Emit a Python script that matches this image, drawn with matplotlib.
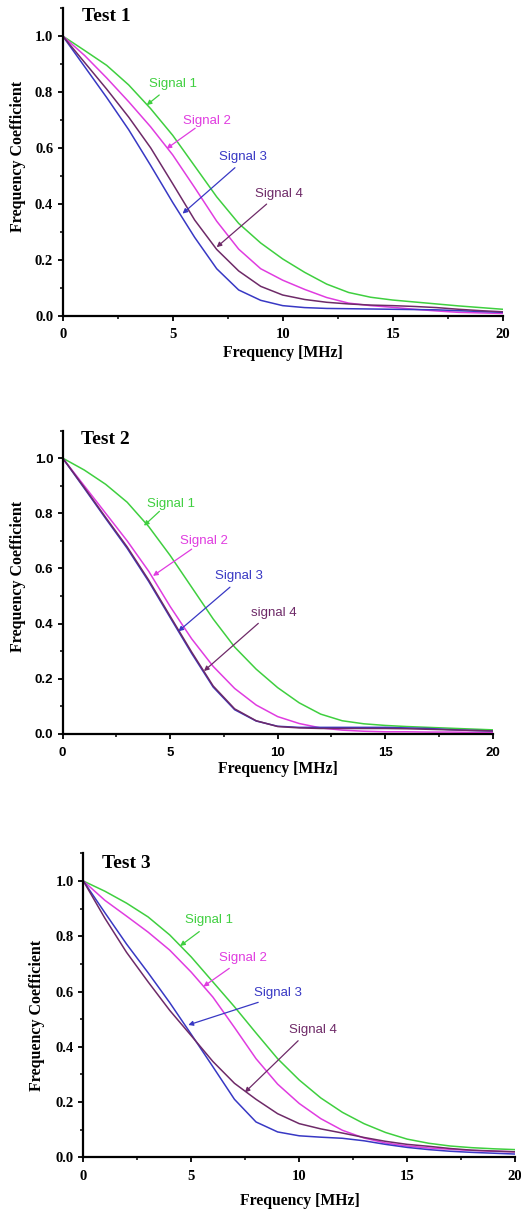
import matplotlib
matplotlib.use("Agg")
import matplotlib.pyplot as plt
from matplotlib.ticker import MultipleLocator

FREQ = [0, 1, 2, 3, 4, 5, 6, 7, 8, 9, 10, 11, 12, 13, 14, 15, 16, 17, 18, 19, 20]

# Test 1
T1_S1 = [1.0, 0.948, 0.895, 0.825, 0.74, 0.645, 0.535, 0.425, 0.33, 0.26, 0.203, 0.155, 0.113, 0.083, 0.066, 0.056, 0.049, 0.042, 0.035, 0.029, 0.023]
T1_S2 = [1.0, 0.93, 0.85, 0.765, 0.675, 0.575, 0.458, 0.338, 0.238, 0.168, 0.127, 0.094, 0.065, 0.045, 0.036, 0.03, 0.023, 0.017, 0.012, 0.01, 0.008]
T1_S3 = [1.0, 0.89, 0.78, 0.665, 0.537, 0.405, 0.28, 0.168, 0.092, 0.055, 0.036, 0.029, 0.026, 0.025, 0.024, 0.023, 0.022, 0.021, 0.018, 0.015, 0.012]
T1_S4 = [1.0, 0.905, 0.81, 0.71, 0.60, 0.472, 0.342, 0.237, 0.16, 0.105, 0.074, 0.058, 0.048, 0.042, 0.038, 0.036, 0.033, 0.029, 0.023, 0.018, 0.014]

# Test 2
T2_S1 = [1.0, 0.957, 0.905, 0.84, 0.752, 0.647, 0.532, 0.417, 0.315, 0.235, 0.168, 0.113, 0.072, 0.048, 0.037, 0.031, 0.027, 0.024, 0.021, 0.018, 0.015]
T2_S2 = [1.0, 0.90, 0.80, 0.70, 0.59, 0.462, 0.345, 0.245, 0.165, 0.105, 0.063, 0.038, 0.022, 0.014, 0.01, 0.008, 0.008, 0.007, 0.007, 0.006, 0.006]
T2_S3 = [1.0, 0.891, 0.781, 0.673, 0.553, 0.422, 0.292, 0.17, 0.088, 0.047, 0.028, 0.024, 0.024, 0.024, 0.024, 0.024, 0.022, 0.02, 0.016, 0.013, 0.011]
T2_S4 = [1.0, 0.894, 0.785, 0.678, 0.558, 0.427, 0.297, 0.174, 0.091, 0.048, 0.027, 0.022, 0.02, 0.02, 0.02, 0.02, 0.019, 0.017, 0.015, 0.013, 0.011]

# Test 3
T3_S1 = [1.0, 0.963, 0.92, 0.87, 0.805, 0.725, 0.635, 0.545, 0.45, 0.357, 0.28, 0.215, 0.163, 0.122, 0.09, 0.066, 0.051, 0.041, 0.035, 0.031, 0.028]
T3_S2 = [1.0, 0.93, 0.873, 0.815, 0.75, 0.67, 0.58, 0.47, 0.357, 0.265, 0.195, 0.14, 0.098, 0.07, 0.052, 0.041, 0.034, 0.029, 0.025, 0.022, 0.02]
T3_S3 = [1.0, 0.885, 0.772, 0.668, 0.56, 0.445, 0.328, 0.21, 0.128, 0.092, 0.078, 0.073, 0.069, 0.06, 0.047, 0.036, 0.028, 0.022, 0.018, 0.015, 0.012]
T3_S4 = [1.0, 0.865, 0.742, 0.635, 0.532, 0.44, 0.347, 0.268, 0.21, 0.158, 0.122, 0.103, 0.088, 0.072, 0.058, 0.047, 0.04, 0.032, 0.026, 0.023, 0.02]

TITLES = ["Test 1", "Test 2", "Test 3"]
SIGNAL_LABELS = [
    ["Signal 1", "Signal 2", "Signal 3", "Signal 4"],
    ["Signal 1", "Signal 2", "Signal 3", "signal 4"],
    ["Signal 1", "Signal 2", "Signal 3", "Signal 4"],
]
SERIES = [
    [T1_S1, T1_S2, T1_S3, T1_S4],
    [T2_S1, T2_S2, T2_S3, T2_S4],
    [T3_S1, T3_S2, T3_S3, T3_S4],
]

COLORS = ["#3fcf3f", "#e03ce0", "#3838c4", "#6e2a68"]

# label positions (text centre), arrow start, arrow tip in data coords
ANNOT = [
    [((5.03, 0.83), (4.39, 0.789), (3.82, 0.753)),
     ((6.58, 0.697), (6.02, 0.67), (4.72, 0.597)),
     ((8.21, 0.566), (7.83, 0.529), (5.45, 0.365)),
     ((9.85, 0.435), (9.27, 0.399), (7.0, 0.245))],
    [((5.02, 0.834), (4.5, 0.807), (3.78, 0.755)),
     ((6.57, 0.70), (6.0, 0.67), (4.2, 0.573)),
     ((8.22, 0.571), (7.78, 0.532), (5.38, 0.372)),
     ((9.8, 0.438), (9.1, 0.401), (6.57, 0.228))],
    [((5.83, 0.859), (5.37, 0.817), (4.48, 0.765)),
     ((7.41, 0.723), (6.76, 0.684), (5.56, 0.618)),
     ((9.03, 0.593), (8.1, 0.561), (4.86, 0.479)),
     ((10.65, 0.461), (9.95, 0.422), (7.48, 0.235))],
]

RECTS = [
    [0.1203, 0.7393, 0.8445, 0.2541],
    [0.1203, 0.3939, 0.8253, 0.2506],
    [0.160, 0.0443, 0.8286, 0.2510],
]
YLAB_POS = [(-0.102, 0.516), (-0.103, 0.518), (-0.107, 0.468)]
XLAB_POS = [(0.5, -0.121), (0.5, -0.116), (0.501, -0.143)]
TITLE_POS = [(0.88, 1.068), (0.84, 1.067), (0.85, 1.064)]
TICK_FAMILY = ["Liberation Serif", "Liberation Sans", "Liberation Serif"]
TICK_SIZE = [10.5, 9.5, 10.5]

fig = plt.figure(figsize=(5.21, 12.11), dpi=100)

for i in range(3):
    ax = fig.add_axes(RECTS[i])
    for s, c in zip(SERIES[i], COLORS):
        ax.plot(FREQ, s, color=c, lw=1.1, solid_joinstyle="round")
    ax.set_xlim(0, 20)
    ax.set_ylim(0, 1.1)
    ax.spines["top"].set_visible(False)
    ax.spines["right"].set_visible(False)
    ax.spines["left"].set_linewidth(1.6)
    ax.spines["bottom"].set_linewidth(1.6)
    ax.xaxis.set_major_locator(MultipleLocator(5))
    ax.xaxis.set_minor_locator(MultipleLocator(2.5))
    ax.yaxis.set_major_locator(MultipleLocator(0.2))
    ax.yaxis.set_minor_locator(MultipleLocator(0.1))
    ax.tick_params(which="major", direction="out", length=3.6, width=1.3)
    ax.tick_params(which="minor", direction="out", length=2.5, width=1.1)
    ax.tick_params(axis="y", which="major", pad=3.2)
    ax.tick_params(axis="x", which="major", pad=5.5)
    ax.set_xticks([0, 5, 10, 15, 20])
    ax.set_xticklabels(["0", "5", "10", "15", "20"])
    ax.set_yticks([0.0, 0.2, 0.4, 0.6, 0.8, 1.0])
    ax.set_yticklabels(["0.0", "0.2", "0.4", "0.6", "0.8", "1.0"])
    for lab in ax.get_xticklabels() + ax.get_yticklabels():
        lab.set_fontfamily(TICK_FAMILY[i])
        lab.set_fontweight("bold")
        lab.set_fontsize(TICK_SIZE[i])

    ax.set_xlabel("Frequency [MHz]", fontfamily="Liberation Serif",
                  fontweight="bold", fontsize=11.3)
    ax.set_ylabel("Frequency Coefficient", fontfamily="Liberation Serif",
                  fontweight="bold", fontsize=11.5)
    ax.xaxis.set_label_coords(*XLAB_POS[i])
    ax.xaxis.label.set_va("center")
    ax.yaxis.set_label_coords(*YLAB_POS[i])
    ax.yaxis.label.set_va("center")

    ax.text(TITLE_POS[i][0], TITLE_POS[i][1], TITLES[i], ha="left", va="center",
            fontfamily="Liberation Serif", fontweight="bold", fontsize=14)

    for (txt_pos, start, tip), label, c in zip(ANNOT[i], SIGNAL_LABELS[i], COLORS):
        ax.text(txt_pos[0], txt_pos[1], label, color=c, ha="center", va="center",
                fontfamily="Liberation Sans", fontsize=9.5)
        ax.annotate("", xy=tip, xytext=start,
                    arrowprops=dict(arrowstyle="-|>", color=c, lw=0.9,
                                    mutation_scale=7, shrinkA=0, shrinkB=0))

fig.savefig("out.png", dpi=100)
